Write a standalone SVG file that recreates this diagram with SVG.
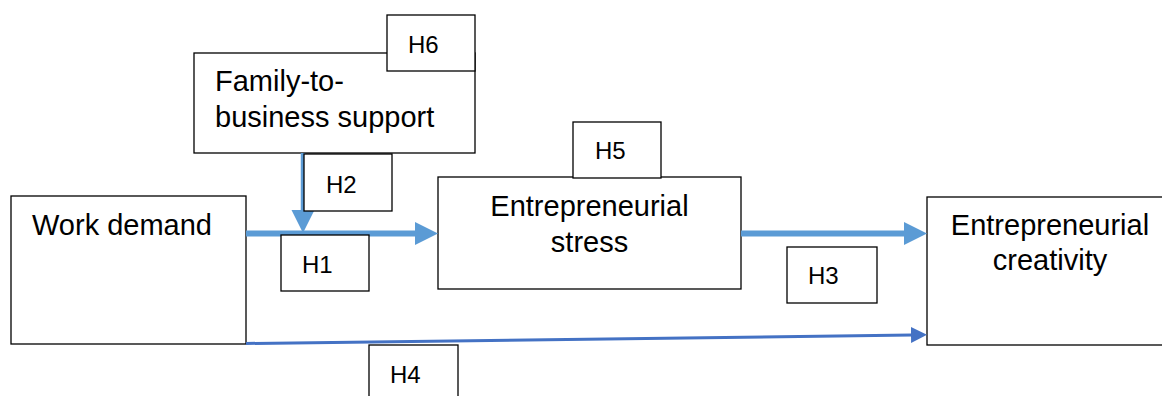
<svg xmlns="http://www.w3.org/2000/svg" width="1162" height="396" viewBox="0 0 1162 396">
  <style>
    .box { fill: #ffffff; stroke: #000000; stroke-width: 1.3; }
    .main { font-family: "Liberation Sans", Arial, sans-serif; font-size: 29px; fill: #000000; }
    .tag { font-family: "Liberation Sans", Arial, sans-serif; font-size: 24px; fill: #000000; }
    .thick { stroke: #5B9BD5; stroke-width: 6; fill: none; }
    .thin { stroke: #4472C4; stroke-width: 3; fill: none; }
  </style>
  <defs>
    <marker id="headThick" markerUnits="userSpaceOnUse" markerWidth="24" markerHeight="24" refX="1" refY="11.5" orient="auto">
      <path d="M0,0 L23,11.5 L0,23 Z" fill="#5B9BD5"/>
    </marker>
    <marker id="headThin" markerUnits="userSpaceOnUse" markerWidth="17" markerHeight="17" refX="1" refY="8" orient="auto">
      <path d="M0,0 L16,8 L0,16 Z" fill="#4472C4"/>
    </marker>
  </defs>
  <rect width="1162" height="396" fill="#ffffff"/>

  <!-- constructs -->
  <g id="family-support">
    <rect class="box" x="194" y="53" width="281" height="100"/>
    <text class="main" x="215" y="91">Family-to-</text>
    <text class="main" x="215" y="127">business support</text>
  </g>
  <g id="work-demand">
    <rect class="box" x="11" y="196" width="235" height="148"/>
    <text class="main" x="32" y="235">Work demand</text>
  </g>
  <g id="entrepreneurial-stress">
    <rect class="box" x="438" y="177" width="303" height="112"/>
    <text class="main" x="589.5" y="216" text-anchor="middle">Entrepreneurial</text>
    <text class="main" x="589.5" y="252" text-anchor="middle">stress</text>
  </g>
  <g id="entrepreneurial-creativity">
    <rect class="box" x="927" y="197" width="250" height="148"/>
    <text class="main" x="1050" y="235" text-anchor="middle">Entrepreneurial</text>
    <text class="main" x="1050" y="270" text-anchor="middle">creativity</text>
  </g>

  <!-- paths -->
  <g id="connectors">
    <line class="thick" x1="246" y1="233.5" x2="416" y2="233.5" marker-end="url(#headThick)"/>
    <line class="thick" x1="303" y1="153" x2="303" y2="211" style="stroke-width:4.5" marker-end="url(#headThick)"/>
    <line class="thick" x1="741" y1="233.5" x2="905" y2="233.5" marker-end="url(#headThick)"/>
    <line class="thin" x1="246" y1="343.5" x2="912" y2="335" marker-end="url(#headThin)"/>
  </g>

  <!-- hypothesis labels -->
  <g id="h6">
    <rect class="box" x="387" y="15" width="88" height="56"/>
    <text class="tag" x="408" y="53">H6</text>
  </g>
  <g id="h2">
    <rect class="box" x="304" y="154" width="88" height="57"/>
    <text class="tag" x="326" y="193">H2</text>
  </g>
  <g id="h1">
    <rect class="box" x="281" y="235" width="88" height="56"/>
    <text class="tag" x="302" y="273">H1</text>
  </g>
  <g id="h5">
    <rect class="box" x="573" y="122" width="88" height="56"/>
    <text class="tag" x="595" y="159">H5</text>
  </g>
  <g id="h3">
    <rect class="box" x="787" y="247" width="90" height="56"/>
    <text class="tag" x="808" y="284">H3</text>
  </g>
  <g id="h4">
    <rect class="box" x="369" y="345" width="89" height="60"/>
    <text class="tag" x="390" y="383">H4</text>
  </g>
</svg>
